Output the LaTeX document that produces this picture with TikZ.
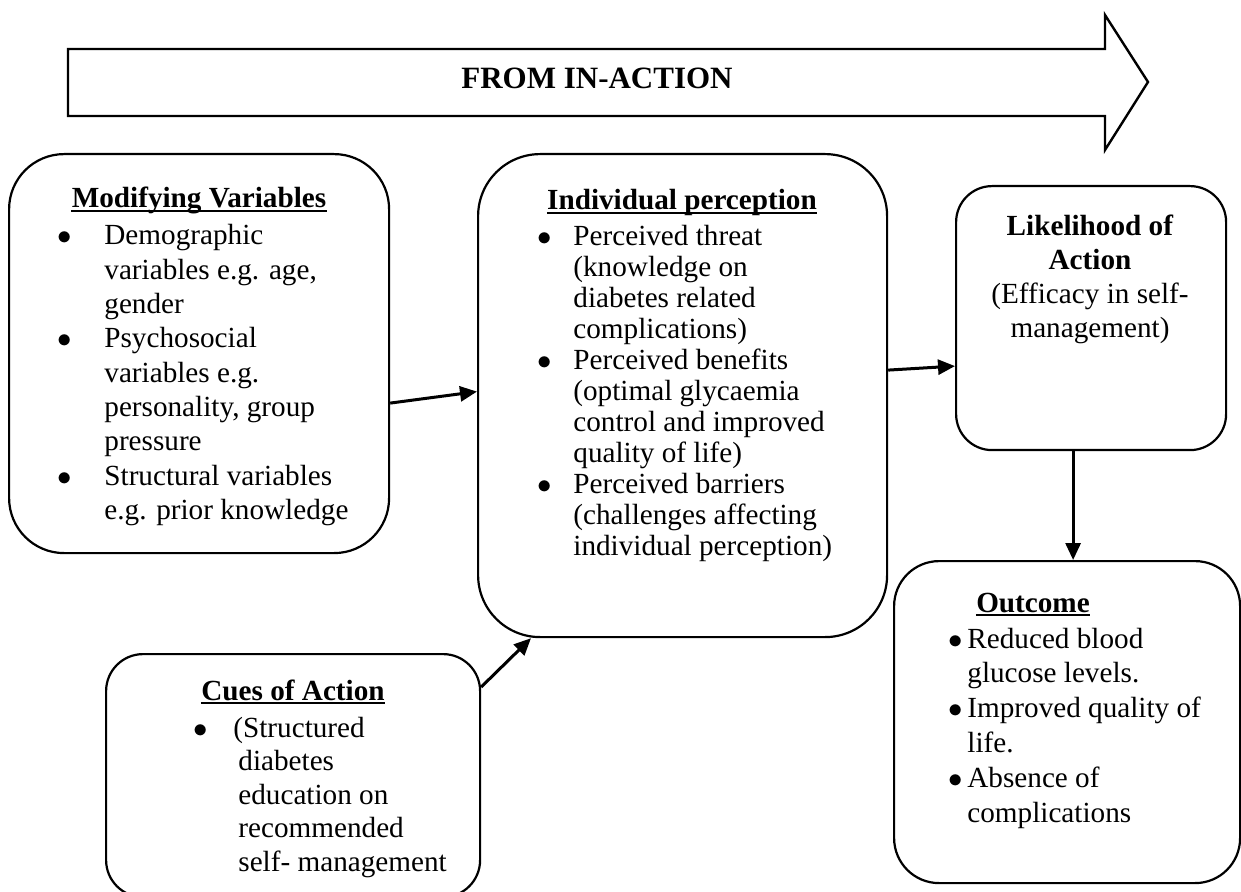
\documentclass[tikz,border=0pt]{standalone}
\usepackage{fontspec}
\setmainfont{Liberation Serif}
\usetikzlibrary{arrows.meta}
\begin{document}
\begin{tikzpicture}[x=0.5pt,y=-0.5pt,
  box/.style={draw, line width=1.1pt, inner sep=0pt, anchor=north west},
  ttl/.style={inner sep=0pt, anchor=base, font={\fontsize{14.6}{17}\selectfont\bfseries}},
  uline/.style={line width=1pt},
  lst/.style={inner sep=0pt, anchor=base west},
  conn/.style={line width=1.5pt, -{Triangle[length=8.5pt,width=7.5pt]}},
]
\useasboundingbox (0,0) rectangle (1241,892);
\fill[white] (0,0) rectangle (1241,892);
\clip (0,0) rectangle (1241,892);

% big arrow
\draw[line width=1.2pt, line join=miter] (68,49) -- (1105,49) -- (1105,15) -- (1148,82) -- (1105,150) -- (1105,116) -- (68,116) -- cycle;
\node[inner sep=0pt, anchor=base, font={\fontsize{15.5}{18}\selectfont\bfseries}] (from) at (597,89) {FROM IN-ACTION};

% boxes
\node[box, rounded corners=27.5pt, minimum width=190pt, minimum height=199.5pt] (mv) at (8,153) {};
\node[box, rounded corners=31pt, minimum width=204.5pt, minimum height=241.5pt] (ip) at (477,153) {};
\node[box, rounded corners=18pt, minimum width=135pt, minimum height=132pt] (lk) at (955,185) {};
\node[box, rounded corners=22.5pt, minimum width=173pt, minimum height=161pt] (oc) at (893,560) {};
\node[box, rounded corners=18.5pt, minimum width=187pt, minimum height=121.5pt] (cu) at (105,653) {};

% Modifying Variables
\node[ttl] (mvt) at (199,208) {Modifying Variables};
\draw[uline] ([yshift=-1.6pt]mvt.base west) -- ([yshift=-1.6pt]mvt.base east);
\node[lst, font={\fontsize{14.6}{17.15}\selectfont}] (mvl) at (57,245) {%
\begin{tabular}[t]{@{}p{23.5pt}@{}l@{}}
$\bullet$ & Demographic\\
 & variables e.g. age,\\
 & gender\\
$\bullet$ & Psychosocial\\
 & variables e.g.\\
 & personality, group\\
 & pressure\\
$\bullet$ & Structural variables\\
 & e.g. prior knowledge
\end{tabular}};

% Individual perception
\node[ttl] (ipt) at (682,210) {Individual perception};
\draw[uline] ([yshift=-1.6pt]ipt.base west) -- ([yshift=-1.6pt]ipt.base east);
\node[lst, font={\fontsize{14.6}{15.5}\selectfont}] (ipl) at (537,246) {%
\begin{tabular}[t]{@{}p{18pt}@{}l@{}}
$\bullet$ & Perceived threat\\
 & (knowledge on\\
 & diabetes related\\
 & complications)\\
$\bullet$ & Perceived benefits\\
 & (optimal glycaemia\\
 & control and improved\\
 & quality of life)\\
$\bullet$ & Perceived barriers\\
 & (challenges affecting\\
 & individual perception)
\end{tabular}};

% Likelihood of Action
\node[inner sep=0pt, anchor=base, font={\fontsize{14.6}{16.85}\selectfont}] (lkt) at (1090,236) {%
\begin{tabular}[t]{@{}c@{}}
\textbf{Likelihood of}\\
\textbf{Action}\\
(Efficacy in self-\\
management)
\end{tabular}};

% Outcome
\node[ttl] (oct) at (1033,612) {Outcome};
\draw[uline] ([yshift=-1.6pt]oct.base west) -- ([yshift=-1.6pt]oct.base east);
\node[lst, font={\fontsize{14.6}{17.4}\selectfont}] (ocl) at (948,648) {%
\begin{tabular}[t]{@{}p{9.5pt}@{}l@{}}
$\bullet$ & Reduced blood\\
 & glucose levels.\\
$\bullet$ & Improved quality of\\
 & life.\\
$\bullet$ & Absence of\\
 & complications
\end{tabular}};

% Cues of Action
\node[ttl] (cut) at (293,700) {Cues of Action};
\draw[uline] ([yshift=-1.6pt]cut.base west) -- ([yshift=-1.6pt]cut.base east);
\node[lst, font={\fontsize{14.6}{16.75}\selectfont}] (cul) at (193,737) {%
\begin{tabular}[t]{@{}p{20pt}@{}l@{}}
$\bullet$ & (Structured\\
 & \hspace{2.5pt}diabetes\\
 & \hspace{2.5pt}education on\\
 & \hspace{2.5pt}recommended\\
 & \hspace{2.5pt}self- management
\end{tabular}};

% connectors
\draw[conn] ([yshift=-24.75pt]mv.east) -- ([yshift=2pt]ip.west);
\draw[conn] ([yshift=12.75pt]ip.east) -- ([yshift=-24pt]lk.west);
\draw[conn] ([xshift=-9pt]lk.south) -- ([xshift=-9pt]lk.south |- oc.north);
\draw[conn] ([yshift=-17pt]cu.north east) -- ([xshift=27pt]ip.south west);
\end{tikzpicture}
\end{document}
